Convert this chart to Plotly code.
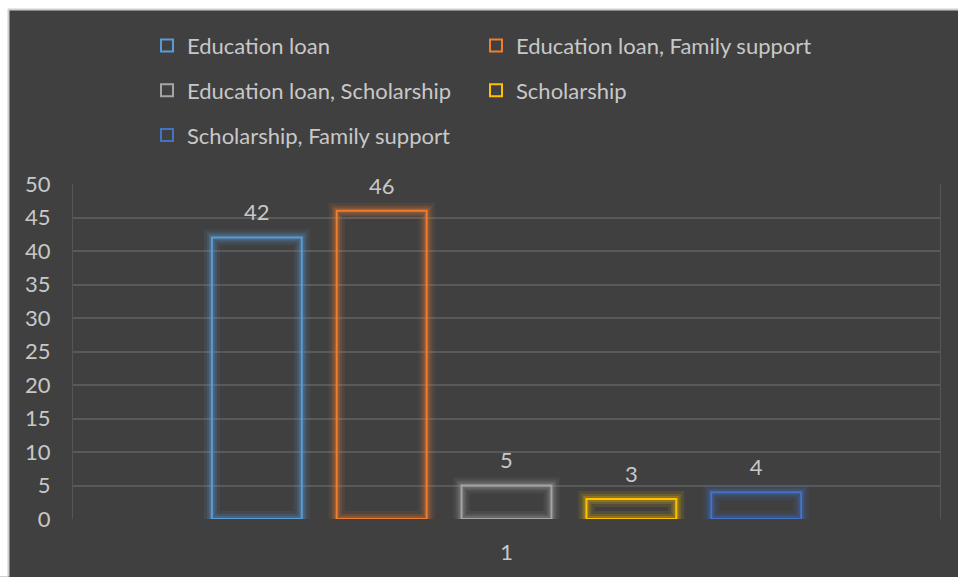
import plotly.graph_objects as go

# Funding sources (single category "1")
categories = ["1"]
series_names = [
    "Education loan",
    "Education loan, Family support",
    "Education loan, Scholarship",
    "Scholarship",
    "Scholarship, Family support",
]
series_values = [42, 46, 5, 3, 4]
series_colors = ["#5B9BD5", "#ED7D31", "#A5A5A5", "#FFC000", "#4472C4"]
y_ticks = [0, 5, 10, 15, 20, 25, 30, 35, 40, 45, 50]

W, H = 958, 577
ML, MR, MT, MB = 73, 18, 184, 56
PW, PH = W - ML - MR, H - MT - MB


def px_x(px):
    return (px - ML) / PW


def px_y(py):
    return (H - MB - py) / PH


def rgba(hex_color, a):
    h = hex_color.lstrip("#")
    r, g, b = int(h[0:2], 16), int(h[2:4], 16), int(h[4:6], 16)
    return f"rgba({r},{g},{b},{a})"


BG = "#404040"
TXT = "#c8c8c8"
FONT = "Lato"
FS = 22
GAP = 0.28

# legend grid: two columns, three rows
legend_cols = [147, 476]
legend_rows = [45, 90, 135]
legend_ids = ["legend", "legend2", "legend3", "legend4", "legend5"]

fig = go.Figure()

for i, (name, val, col, lg) in enumerate(zip(series_names, series_values, series_colors, legend_ids)):
    # soft glow around each outlined bar
    for w, a in [(16, 0.10), (10, 0.16), (6, 0.22)]:
        fig.add_trace(go.Bar(
            x=categories, y=[val], offsetgroup=str(i),
            marker=dict(color="rgba(0,0,0,0)", line=dict(color=rgba(col, a), width=w)),
            showlegend=False, hoverinfo="skip",
        ))
    fig.add_trace(go.Bar(
        x=categories, y=[val], name=name, offsetgroup=str(i), legend=lg,
        marker=dict(color="rgba(0,0,0,0)", line=dict(color=col, width=2)),
        cliponaxis=False,
    ))
    # value label above the bar, grouped on the same slot
    fig.add_trace(go.Scatter(
        x=categories, y=[val], offsetgroup=str(i), mode="markers+text",
        text=[str(val)], textposition="top center",
        marker=dict(size=17, color="rgba(0,0,0,0)"),
        textfont=dict(family=FONT, size=FS, color=TXT),
        showlegend=False, hoverinfo="skip", cliponaxis=False,
    ))

legend_common = dict(
    orientation="v", xanchor="left", yanchor="middle", itemwidth=30,
    bgcolor="rgba(0,0,0,0)", font=dict(family=FONT, size=FS, color=TXT),
)
legend_layout = {}
for k, lg in enumerate(legend_ids):
    legend_layout[lg] = dict(x=px_x(legend_cols[k % 2]), y=px_y(legend_rows[k // 2]), **legend_common)

fig.update_layout(
    width=W, height=H,
    margin=dict(l=ML, r=MR, t=MT, b=MB),
    paper_bgcolor=BG, plot_bgcolor=BG,
    barmode="group", bargap=GAP, bargroupgap=0.28,
    scattermode="group", scattergap=GAP,
    font=dict(family=FONT, size=FS, color=TXT),
    xaxis=dict(showgrid=False, showline=False, ticks="", ticklabelstandoff=18,
               tickfont=dict(family=FONT, size=FS, color=TXT)),
    yaxis=dict(range=[0, 50], tickvals=y_ticks, showgrid=True, gridcolor="#595959",
               gridwidth=1.5, zeroline=False, showline=True, linecolor="#555555",
               mirror=True, ticks="", ticklabelstandoff=17,
               tickfont=dict(family=FONT, size=FS, color=TXT)),
    shapes=[
        # white frame strips on the left and top
        dict(type="rect", xref="paper", yref="paper", x0=px_x(-2), x1=px_x(8),
             y0=px_y(H + 2), y1=px_y(-2), fillcolor="white", line=dict(width=0), layer="above"),
        dict(type="rect", xref="paper", yref="paper", x0=px_x(-2), x1=px_x(W + 2),
             y0=px_y(8), y1=px_y(-2), fillcolor="white", line=dict(width=0), layer="above"),
        dict(type="line", xref="paper", yref="paper", x0=px_x(8.5), x1=px_x(8.5),
             y0=px_y(H + 2), y1=px_y(8), line=dict(color="#cfcfcf", width=2), layer="above"),
        dict(type="line", xref="paper", yref="paper", x0=px_x(8), x1=px_x(W + 2),
             y0=px_y(8.5), y1=px_y(8.5), line=dict(color="#cfcfcf", width=2), layer="above"),
    ],
    **legend_layout,
)

fig.write_html("out.html")
